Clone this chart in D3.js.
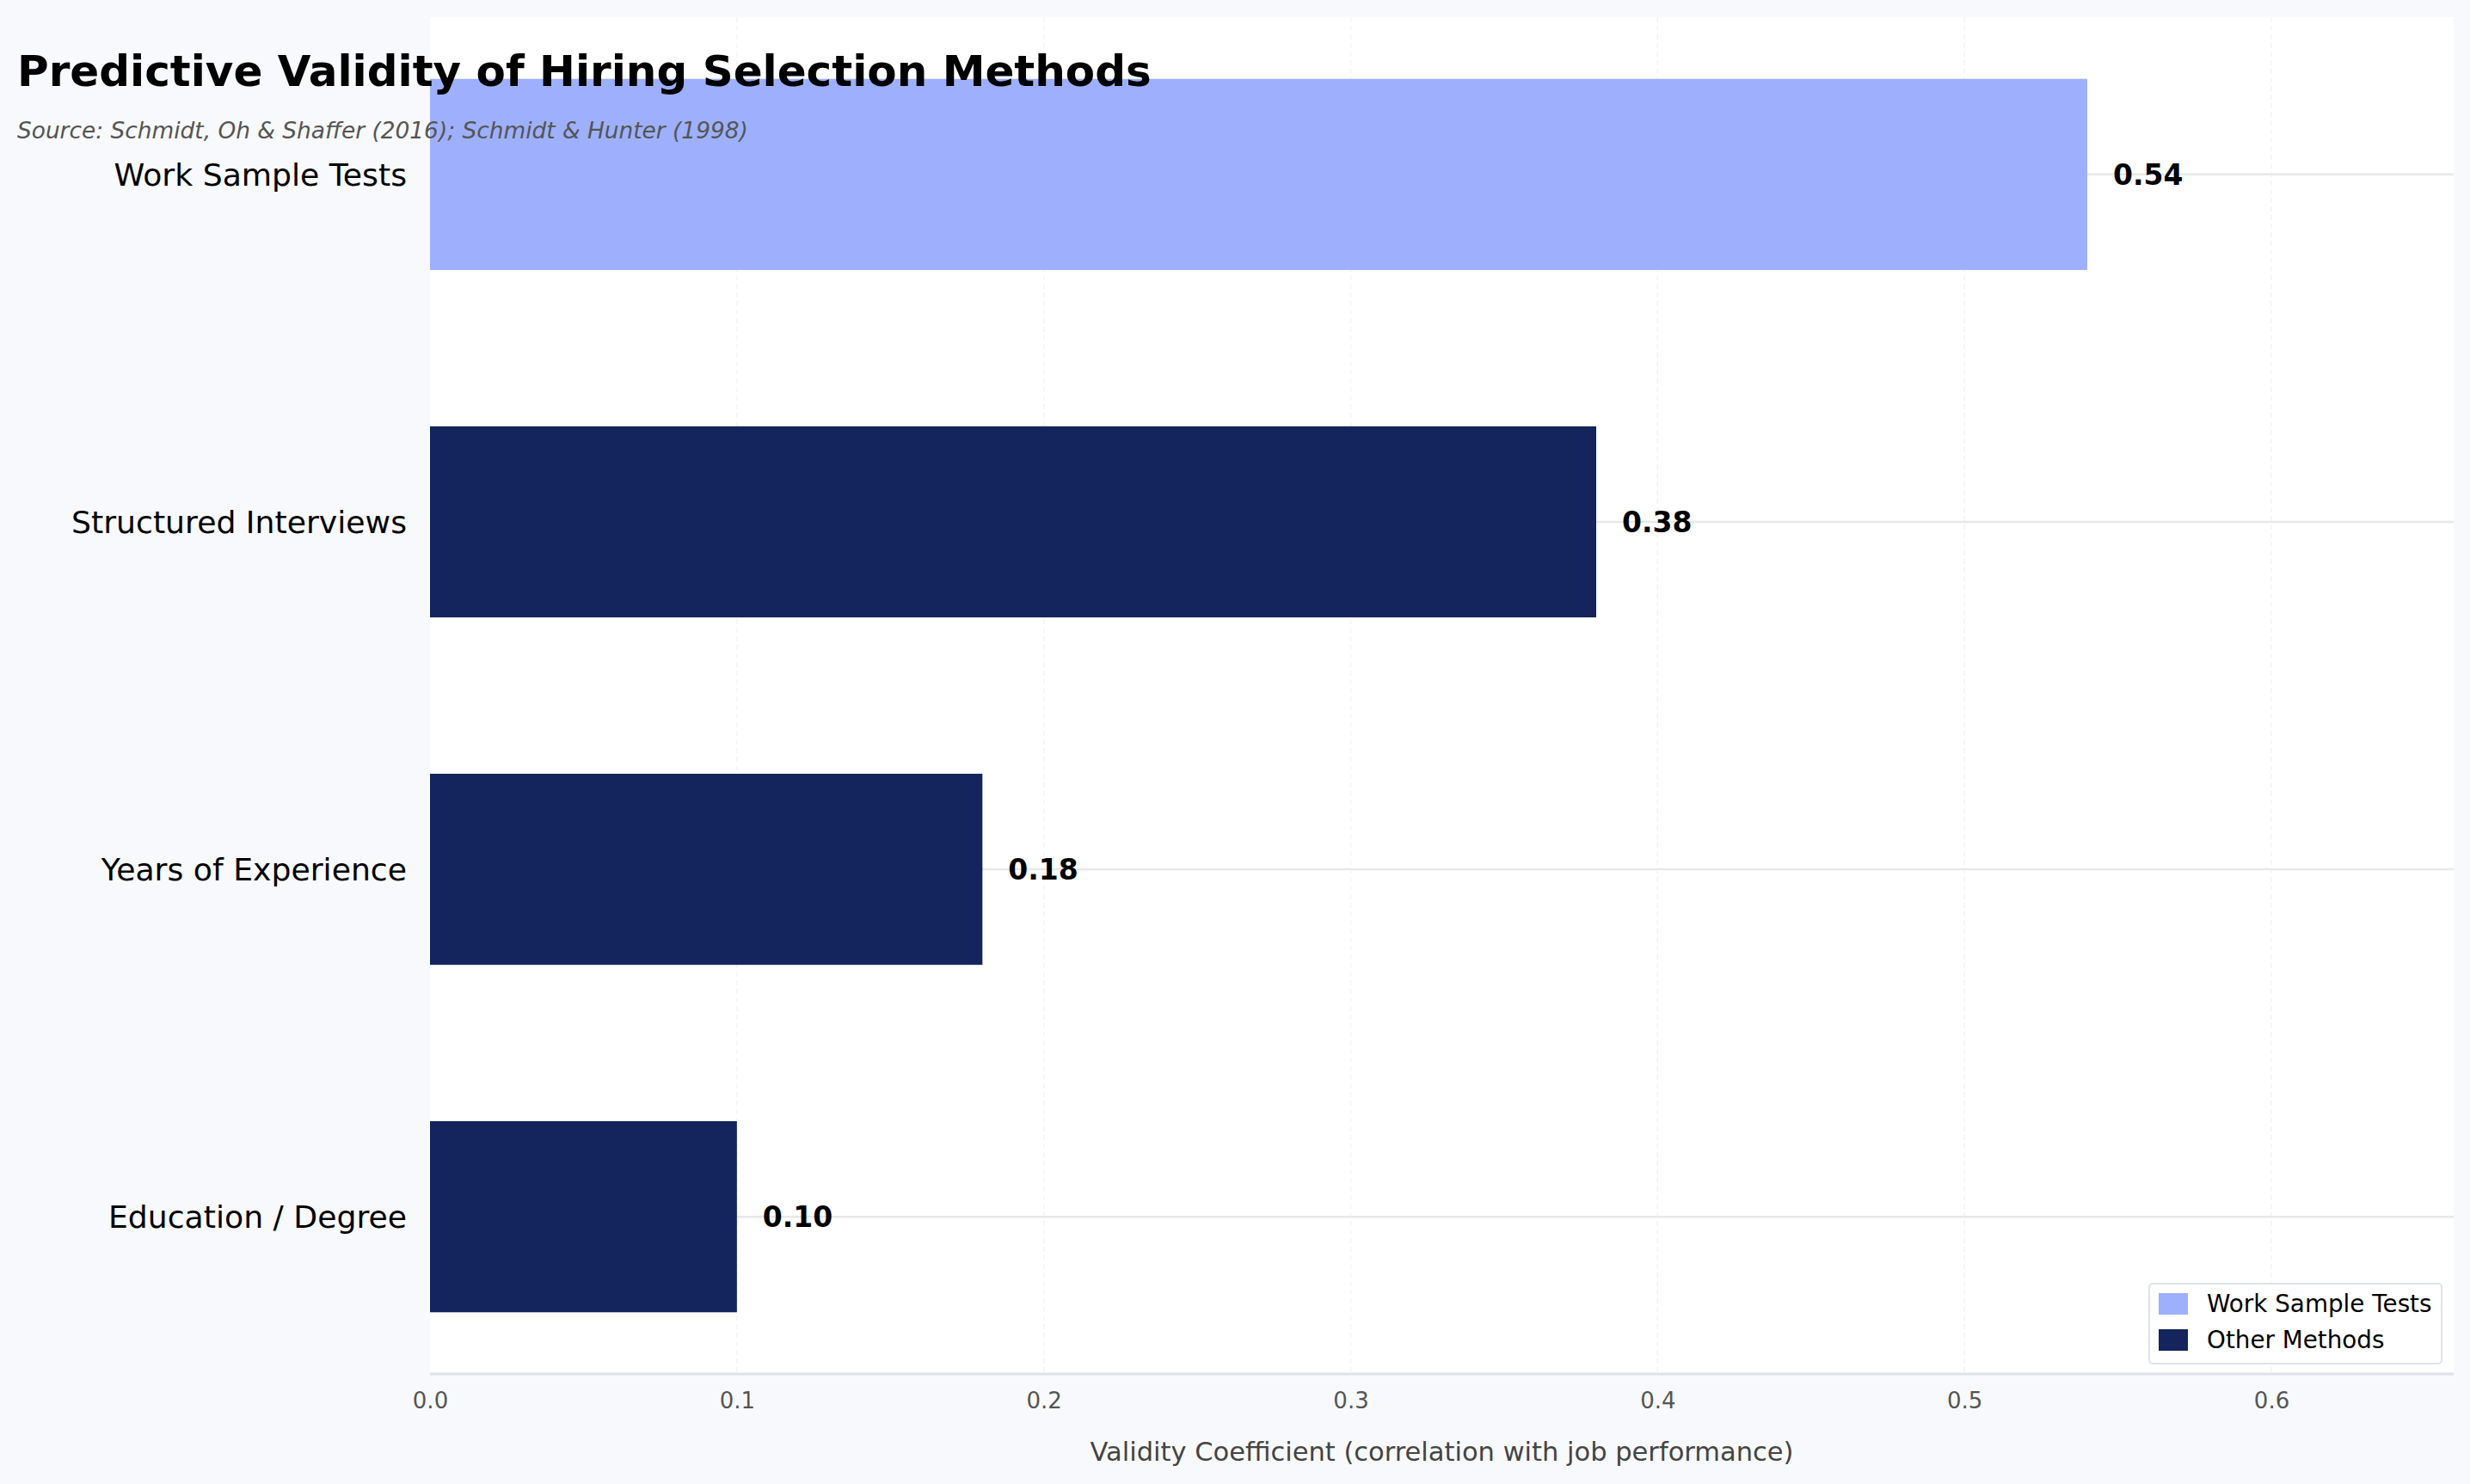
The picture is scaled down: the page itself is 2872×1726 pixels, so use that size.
<!DOCTYPE html>
<html>
<head>
<meta charset="utf-8">
<script src="https://cdn.jsdelivr.net/npm/d3@7"></script>
<style>
  body { margin: 0; background: #f8f9fc; }
  text { font-family: "DejaVu Sans", sans-serif; }
</style>
</head>
<body>
<div id="graphic"></div>
<script>
// chart data
var methods = ["Work Sample Tests", "Structured Interviews", "Years of Experience", "Education / Degree"];
var validity = [0.54, 0.38, 0.18, 0.10];
var xTicks = [0.0, 0.1, 0.2, 0.3, 0.4, 0.5, 0.6];
var legendLabels = ["Work Sample Tests", "Other Methods"];

var w = 2872, h = 1726;
var plotLeft = 500, plotRight = 2853, plotTop = 20, plotBottom = 1598;
var highlight = "#9eb0fd", other = "#14245c";

var svg = d3.select("#graphic")
    .append("svg")
    .attr("width", w)
    .attr("height", h);

svg.append("rect")
    .attr("width", w).attr("height", h)
    .attr("fill", "#f8f9fc");

svg.append("rect")
    .attr("x", plotLeft).attr("y", plotTop)
    .attr("width", plotRight - plotLeft).attr("height", plotBottom - plotTop)
    .attr("fill", "#ffffff");

var xScale = d3.scaleLinear()
    .domain([0, 0.6594])
    .range([plotLeft, plotRight]);

var yScale = d3.scaleBand()
    .domain(methods)
    .range([plotTop, plotBottom])
    .paddingInner(0.45)
    .paddingOuter(0.1775);

// faint vertical grid
svg.selectAll(".vgrid")
    .data(xTicks.slice(1))
    .enter()
    .append("line")
    .attr("x1", function(d){ return xScale(d); })
    .attr("x2", function(d){ return xScale(d); })
    .attr("y1", plotTop).attr("y2", plotBottom)
    .attr("stroke", "#f3f3f3")
    .attr("stroke-width", 1.5)
    .attr("stroke-dasharray", "6,4");

// horizontal lines at each category
svg.selectAll(".hgrid")
    .data(methods)
    .enter()
    .append("line")
    .attr("x1", plotLeft).attr("x2", plotRight)
    .attr("y1", function(d){ return yScale(d) + yScale.bandwidth() / 2; })
    .attr("y2", function(d){ return yScale(d) + yScale.bandwidth() / 2; })
    .attr("stroke", "#e8e8e8")
    .attr("stroke-width", 2.5);

svg.selectAll(".bar")
    .data(methods)
    .enter()
    .append("rect")
    .attr("x", xScale(0))
    .attr("y", function(d){ return yScale(d); })
    .attr("width", function(d, i){ return xScale(validity[i]) - xScale(0); })
    .attr("height", yScale.bandwidth())
    .attr("fill", function(d, i){ return i == 0 ? highlight : other; });

svg.selectAll(".val")
    .data(methods)
    .enter()
    .append("text")
    .attr("x", function(d, i){ return xScale(validity[i]) + 30; })
    .attr("y", function(d){ return yScale(d) + yScale.bandwidth() / 2; })
    .attr("dy", "0.36em")
    .attr("font-size", 33)
    .attr("font-weight", "bold")
    .attr("fill", "#000")
    .text(function(d, i){ return validity[i].toFixed(2); });

// category labels
svg.selectAll(".cat")
    .data(methods)
    .enter()
    .append("text")
    .attr("x", plotLeft - 27)
    .attr("y", function(d){ return yScale(d) + yScale.bandwidth() / 2; })
    .attr("dy", "0.36em")
    .attr("text-anchor", "end")
    .attr("font-size", 36.2)
    .attr("fill", "#000")
    .text(function(d){ return d; });

// x axis
var xAxis = svg.append("g")
    .attr("transform", "translate(0," + plotBottom + ")")
    .call(d3.axisBottom(xScale).tickValues(xTicks).tickFormat(d3.format(".1f")).tickSize(0).tickPadding(22));
xAxis.select(".domain").remove();
xAxis.selectAll("text")
    .attr("font-size", 26)
    .attr("font-family", "DejaVu Sans, sans-serif")
    .attr("fill", "#555");

svg.append("line")
    .attr("x1", plotLeft).attr("x2", plotRight)
    .attr("y1", plotBottom).attr("y2", plotBottom)
    .attr("stroke", "#dde2ec")
    .attr("stroke-width", 3);

svg.append("text")
    .attr("x", (plotLeft + plotRight) / 2)
    .attr("y", 1699)
    .attr("text-anchor", "middle")
    .attr("font-size", 30.5)
    .attr("fill", "#444")
    .text("Validity Coefficient (correlation with job performance)");

// legend
var lg = svg.append("g").attr("transform", "translate(2499,1493)");
lg.append("rect")
    .attr("width", 340).attr("height", 93)
    .attr("rx", 4)
    .attr("fill", "rgba(255,255,255,0.85)")
    .attr("stroke", "#dde2ee")
    .attr("stroke-width", 2);
legendLabels.forEach(function(l, i){
    lg.append("rect")
        .attr("x", 11).attr("y", 11 + i * 42)
        .attr("width", 34).attr("height", 25)
        .attr("fill", i == 0 ? highlight : other);
    lg.append("text")
        .attr("x", 67).attr("y", 23 + i * 42)
        .attr("dy", "0.36em")
        .attr("font-size", 27.8)
        .attr("fill", "#000")
        .text(l);
});

// titles
svg.append("text")
    .attr("x", 20).attr("y", 100)
    .attr("font-size", 50)
    .attr("font-weight", "bold")
    .attr("fill", "#000")
    .text("Predictive Validity of Hiring Selection Methods");

svg.append("text")
    .attr("x", 20).attr("y", 161)
    .attr("font-size", 26.4)
    .attr("font-style", "italic")
    .attr("fill", "#555")
    .text("Source: Schmidt, Oh & Shaffer (2016); Schmidt & Hunter (1998)");
</script>
</body>
</html>
